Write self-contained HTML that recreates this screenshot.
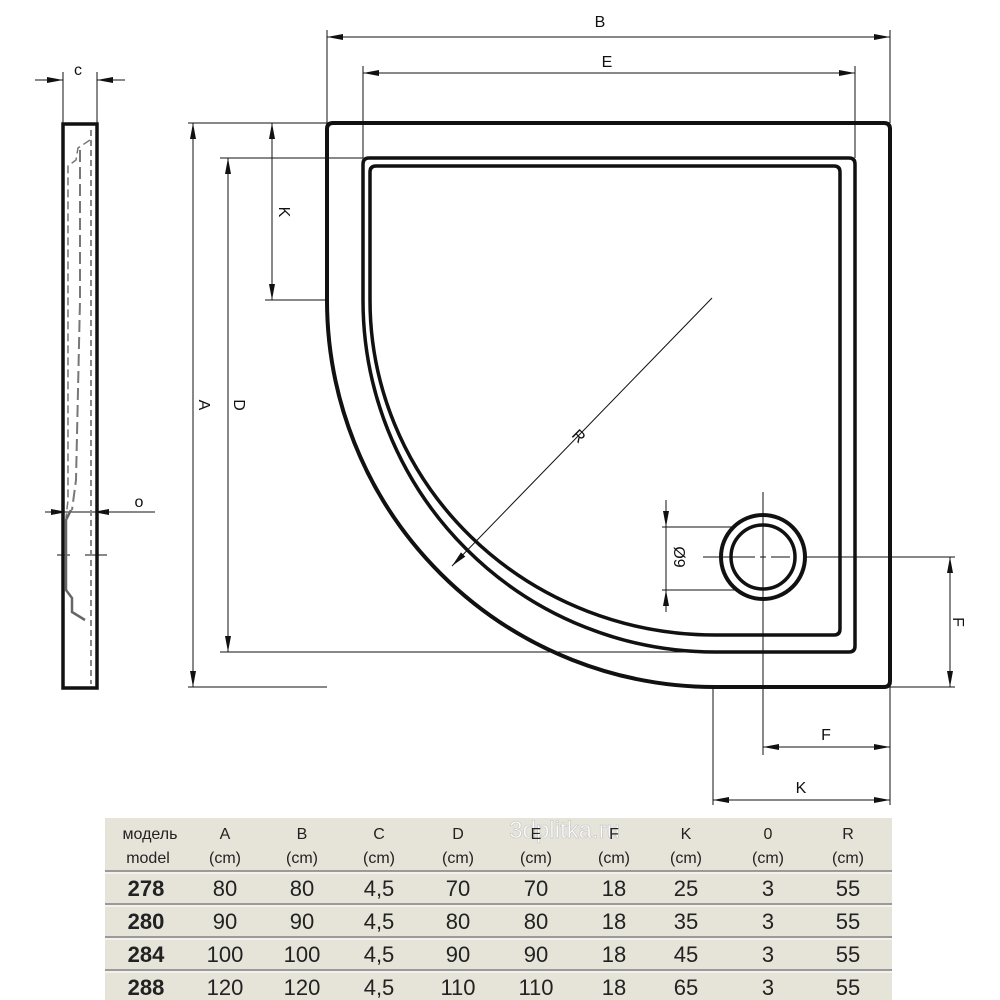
<!DOCTYPE html>
<html><head><meta charset="utf-8"><style>
body{margin:0;background:#fff}
svg{display:block}
text{font-family:"Liberation Sans",sans-serif}
</style></head><body>
<svg width="1000" height="1000" viewBox="0 0 1000 1000" xmlns="http://www.w3.org/2000/svg">
<defs>
<marker id="a" markerWidth="16" markerHeight="8" refX="16" refY="4" orient="auto-start-reverse" markerUnits="userSpaceOnUse">
<path d="M0,1 L16,4 L0,7 Z" fill="#111"/></marker>
</defs>
<g fill="none" stroke="#111">
<path d="M327,300 L327,129 Q327,123 333,123 L884,123 Q890,123 890,129 L890,681 Q890,687 884,687 L715,687 A388,387 0 0 1 327,300" stroke-width="4"/>
<path d="M363,300 L363,164 Q363,158 369,158 L849,158 Q855,158 855,164 L855,646 Q855,652 849,652 L715,652 A352,352 0 0 1 363,300" stroke-width="3.5"/>
<path d="M370,300 L370,172 Q370,166 376,166 L834,166 Q840,166 840,172 L840,629 Q840,635 834,635 L715,635 A345,335 0 0 1 370,300" stroke-width="3.5"/>
<circle cx="763" cy="557" r="42" stroke-width="4"/>
<circle cx="763" cy="557" r="32" stroke-width="3.5"/>
<g stroke-width="1">
<path d="M703,557 H755 M760,557 H766 M771,557 H790"/>
<line x1="805" y1="557" x2="955" y2="557"/>
<line x1="763" y1="492" x2="763" y2="755"/>
<line x1="950" y1="557" x2="950" y2="687" marker-start="url(#a)" marker-end="url(#a)"/>
<line x1="890" y1="687" x2="955" y2="687"/>
<line x1="713" y1="687" x2="713" y2="805"/>
<line x1="890" y1="687" x2="890" y2="805"/>
<line x1="763" y1="747" x2="890" y2="747" marker-start="url(#a)" marker-end="url(#a)"/>
<line x1="713" y1="800" x2="890" y2="800" marker-start="url(#a)" marker-end="url(#a)"/>
<line x1="662" y1="527" x2="735" y2="527"/>
<line x1="662" y1="590" x2="735" y2="590"/>
<line x1="666" y1="500" x2="666" y2="527" marker-end="url(#a)"/>
<line x1="666" y1="612" x2="666" y2="590" marker-end="url(#a)"/>
<line x1="666" y1="527" x2="666" y2="590"/>
<line x1="327" y1="30" x2="327" y2="123"/>
<line x1="890" y1="30" x2="890" y2="123"/>
<line x1="327" y1="37" x2="890" y2="37" marker-start="url(#a)" marker-end="url(#a)"/>
<line x1="363" y1="66" x2="363" y2="158"/>
<line x1="855" y1="66" x2="855" y2="158"/>
<line x1="363" y1="73" x2="855" y2="73" marker-start="url(#a)" marker-end="url(#a)"/>
<line x1="188" y1="123" x2="327" y2="123"/>
<line x1="188" y1="687" x2="327" y2="687"/>
<line x1="193" y1="123" x2="193" y2="687" marker-start="url(#a)" marker-end="url(#a)"/>
<line x1="220" y1="158" x2="363" y2="158"/>
<line x1="220" y1="652" x2="715" y2="652"/>
<line x1="228" y1="158" x2="228" y2="652" marker-start="url(#a)" marker-end="url(#a)"/>
<line x1="265" y1="300" x2="327" y2="300"/>
<line x1="272" y1="123" x2="272" y2="300" marker-start="url(#a)" marker-end="url(#a)"/>
<line x1="712" y1="298" x2="452" y2="566" marker-end="url(#a)"/>
<line x1="63" y1="72" x2="63" y2="123"/>
<line x1="97" y1="72" x2="97" y2="123"/>
<line x1="35" y1="80" x2="63" y2="80" marker-end="url(#a)"/>
<line x1="125" y1="80" x2="97" y2="80" marker-end="url(#a)"/>
<line x1="45" y1="512" x2="67" y2="512" marker-end="url(#a)"/>
<line x1="155" y1="512" x2="93" y2="512" marker-end="url(#a)"/>
<line x1="67" y1="512" x2="93" y2="512"/>
<line x1="57" y1="555" x2="70" y2="555"/>
<line x1="85" y1="555" x2="107" y2="555"/>
</g>
<rect x="63" y="124" width="34" height="564" stroke-width="3.5"/>
<path d="M91,130 V684" stroke="#888" stroke-width="2" stroke-dasharray="6,4"/>
<path d="M90,140 L78,148 L76,160 L68,166 L68,500 L66,518" stroke="#777" stroke-width="1.5" stroke-dasharray="8,4"/>
<path d="M80,150 L80,300 L76,480 L72,510" stroke="#777" stroke-width="2" stroke-dasharray="12,5"/>
<path d="M71,510 L66,520 L66,590 L72,598 L72,612 L85,620" stroke="#666" stroke-width="2.5"/>
</g>
<g fill="#111" font-size="16">
<text x="600" y="27" text-anchor="middle">B</text>
<text x="607" y="67" text-anchor="middle">E</text>
<text x="78" y="75" text-anchor="middle">c</text>
<text x="139" y="507" text-anchor="middle">o</text>
<text x="826" y="740" text-anchor="middle">F</text>
<text x="801" y="793" text-anchor="middle">K</text>
<text transform="translate(199,405) rotate(90)" text-anchor="middle">A</text>
<text transform="translate(234,405) rotate(90)" text-anchor="middle">D</text>
<text transform="translate(279,212) rotate(90)" text-anchor="middle">K</text>
<text transform="translate(953,622) rotate(90)" text-anchor="middle">F</text>
<text transform="translate(674,557) rotate(90)" text-anchor="middle">Ø9</text>
<text transform="translate(575,440) rotate(45)" text-anchor="middle">R</text>
</g>
<rect x="105" y="818" width="787" height="182" fill="#e6e3d9"/>
<g stroke="#9a9a9a" stroke-width="2">
<line x1="105" y1="871" x2="892" y2="871"/><line x1="105" y1="904" x2="892" y2="904"/>
<line x1="105" y1="937" x2="892" y2="937"/><line x1="105" y1="970" x2="892" y2="970"/>
</g>
<g stroke="#fff" stroke-width="1">
<line x1="105" y1="873" x2="892" y2="873"/><line x1="105" y1="906" x2="892" y2="906"/>
<line x1="105" y1="939" x2="892" y2="939"/><line x1="105" y1="972" x2="892" y2="972"/>
</g>
<text x="620" y="838" font-size="24" fill="#fff" stroke="#ccc" stroke-width="0.8" text-anchor="end">3dplitka.ru</text>
<g font-size="16" fill="#222" text-anchor="middle">
<text x="150" y="839">модель</text><text x="148" y="863">model</text>
<text x="225" y="839">A</text><text x="302" y="839">B</text><text x="379" y="839">C</text>
<text x="458" y="839">D</text><text x="536" y="839">E</text><text x="614" y="839">F</text>
<text x="686" y="839">K</text><text x="768" y="839">0</text><text x="848" y="839">R</text>
<text x="225" y="863">(cm)</text><text x="302" y="863">(cm)</text><text x="379" y="863">(cm)</text>
<text x="458" y="863">(cm)</text><text x="536" y="863">(cm)</text><text x="614" y="863">(cm)</text>
<text x="686" y="863">(cm)</text><text x="768" y="863">(cm)</text><text x="848" y="863">(cm)</text>
</g>
<g font-size="22" fill="#222" text-anchor="middle">
<g font-weight="bold"><text x="146" y="896">278</text><text x="146" y="929">280</text><text x="146" y="962">284</text><text x="146" y="995">288</text></g>
<text x="225" y="896">80</text><text x="302" y="896">80</text><text x="379" y="896">4,5</text><text x="458" y="896">70</text><text x="536" y="896">70</text><text x="614" y="896">18</text><text x="686" y="896">25</text><text x="768" y="896">3</text><text x="848" y="896">55</text>
<text x="225" y="929">90</text><text x="302" y="929">90</text><text x="379" y="929">4,5</text><text x="458" y="929">80</text><text x="536" y="929">80</text><text x="614" y="929">18</text><text x="686" y="929">35</text><text x="768" y="929">3</text><text x="848" y="929">55</text>
<text x="225" y="962">100</text><text x="302" y="962">100</text><text x="379" y="962">4,5</text><text x="458" y="962">90</text><text x="536" y="962">90</text><text x="614" y="962">18</text><text x="686" y="962">45</text><text x="768" y="962">3</text><text x="848" y="962">55</text>
<text x="225" y="995">120</text><text x="302" y="995">120</text><text x="379" y="995">4,5</text><text x="458" y="995">110</text><text x="536" y="995">110</text><text x="614" y="995">18</text><text x="686" y="995">65</text><text x="768" y="995">3</text><text x="848" y="995">55</text>
</g>
</svg>
</body></html>
